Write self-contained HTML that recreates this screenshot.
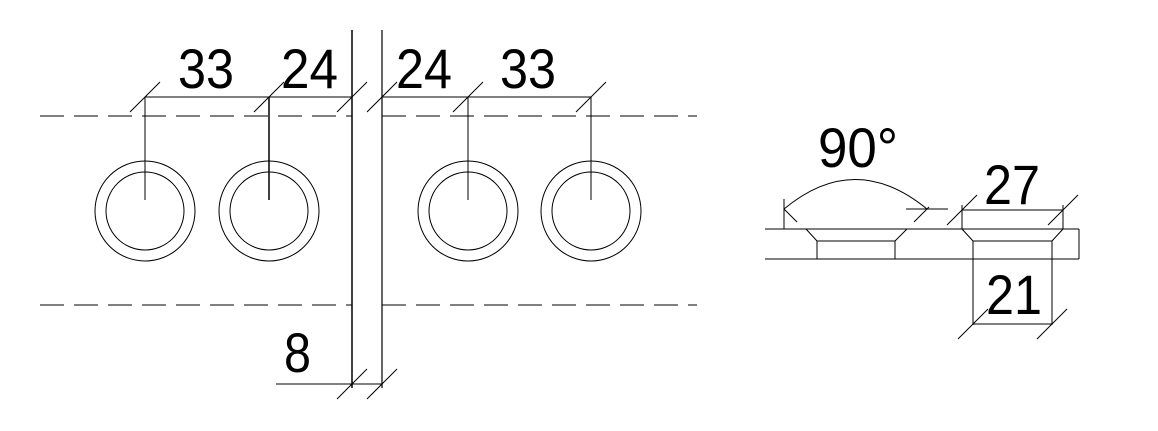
<!DOCTYPE html>
<html><head><meta charset="utf-8"><style>html,body{margin:0;padding:0;background:#fff}svg{display:block}</style></head>
<body>
<svg width="1158" height="431" viewBox="0 0 1158 431" xmlns="http://www.w3.org/2000/svg">
<g stroke="#000" stroke-width="1" fill="none">
<line x1="40" y1="116" x2="352" y2="116" stroke-dasharray="24,10"/>
<line x1="382" y1="116" x2="697" y2="116" stroke-dasharray="24,10"/>
<line x1="40" y1="305" x2="352" y2="305" stroke-dasharray="24,10"/>
<line x1="382" y1="305" x2="697" y2="305" stroke-dasharray="24,10"/>
<line x1="352" y1="30" x2="352" y2="388" stroke-width="1.5"/>
<line x1="382" y1="30" x2="382" y2="388" stroke-width="1.2"/>
<line x1="145" y1="97" x2="352" y2="97"/>
<line x1="382" y1="97" x2="591" y2="97"/>
<g>
<line x1="130" y1="112" x2="160" y2="82"/>
<line x1="254" y1="112" x2="284" y2="82"/>
<line x1="337" y1="112" x2="367" y2="82"/>
<line x1="367" y1="112" x2="397" y2="82"/>
<line x1="453" y1="112" x2="483" y2="82"/>
<line x1="576" y1="112" x2="606" y2="82"/>
</g>
<g>
<circle cx="145" cy="211" r="50"/><circle cx="145" cy="211" r="39"/>
<circle cx="269" cy="211" r="50"/><circle cx="269" cy="211" r="39"/>
<circle cx="468" cy="211" r="50"/><circle cx="468" cy="211" r="39"/>
<circle cx="591" cy="211" r="50"/><circle cx="591" cy="211" r="39"/>
<line x1="145" y1="97" x2="145" y2="200"/>
<line x1="269" y1="97" x2="269" y2="200" stroke-width="1.5"/>
<line x1="468" y1="97" x2="468" y2="200"/>
<line x1="591" y1="97" x2="591" y2="200"/>
</g>
<line x1="276" y1="384" x2="382" y2="384"/>
<line x1="337" y1="399" x2="367" y2="369"/>
<line x1="367" y1="399" x2="397" y2="369"/>
<line x1="765" y1="229" x2="1079" y2="229"/>
<line x1="765" y1="259" x2="1079" y2="259"/>
<line x1="1079" y1="229" x2="1079" y2="259"/>
<polyline points="806,229 817,241 895,241 907,229"/>
<line x1="817" y1="241" x2="817" y2="259"/>
<line x1="895" y1="241" x2="895" y2="259"/>
<polyline points="962,229 973,241 1052,241 1063,229"/>
<line x1="973" y1="241" x2="973" y2="259"/>
<line x1="1052" y1="241" x2="1052" y2="259"/>
<line x1="962" y1="210" x2="1063" y2="210"/>
<line x1="962" y1="205" x2="962" y2="229"/>
<line x1="1063" y1="205" x2="1063" y2="229"/>
<line x1="947" y1="225" x2="977" y2="195"/>
<line x1="1048" y1="225" x2="1078" y2="195"/>
<line x1="973" y1="259" x2="973" y2="325"/>
<line x1="1052" y1="259" x2="1052" y2="325"/>
<line x1="973" y1="324" x2="1052" y2="324"/>
<line x1="958" y1="339" x2="988" y2="309"/>
<line x1="1037" y1="339" x2="1067" y2="309"/>
<line x1="784" y1="199" x2="784" y2="229"/>
<path d="M784,209 Q855,150 927,209"/>
<line x1="906" y1="209" x2="948" y2="209"/>
<line x1="784" y1="209" x2="797" y2="222"/>
<line x1="914" y1="222" x2="929" y2="207"/>
</g>
<g font-family="Liberation Sans, sans-serif" font-size="56" fill="#000" lengthAdjust="spacingAndGlyphs">
<text x="178" y="88" textLength="56" lengthAdjust="spacingAndGlyphs">33</text>
<text x="281" y="88" textLength="57" lengthAdjust="spacingAndGlyphs">24</text>
<text x="396" y="88" textLength="56" lengthAdjust="spacingAndGlyphs">24</text>
<text x="500" y="88" textLength="56" lengthAdjust="spacingAndGlyphs">33</text>
<text x="284" y="372" textLength="27" lengthAdjust="spacingAndGlyphs">8</text>
<text x="818" y="167" textLength="80" lengthAdjust="spacingAndGlyphs">90°</text>
<text x="984" y="204" textLength="56" lengthAdjust="spacingAndGlyphs">27</text>
<text x="986" y="314" textLength="56" lengthAdjust="spacingAndGlyphs">21</text>
</g>
</svg>
</body></html>
